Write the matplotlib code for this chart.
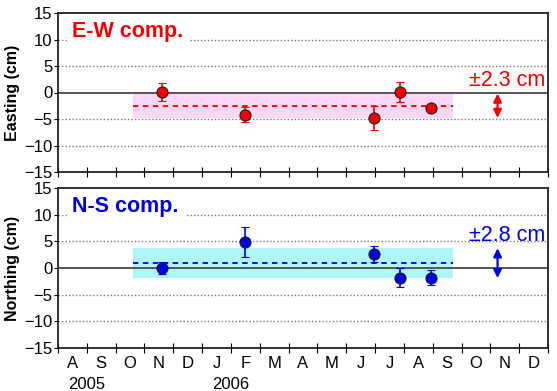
import numpy as np
import matplotlib.pyplot as plt

plt.rcParams['font.family'] = ['Liberation Sans', 'DejaVu Sans']

# month axis: 0 = 1 Aug 2005 ... 17 = 1 Jan 2007
months = ['A', 'S', 'O', 'N', 'D', 'J', 'F', 'M', 'A', 'M', 'J', 'J', 'A', 'S', 'O', 'N', 'D']
years = ['2005', '2006']
year_pos = [1.0, 6.0]

# survey epochs (fractional month index)
t_obs = [3.6, 6.5, 10.95, 11.85, 12.95]

ew = [0.1, -4.2, -4.8, 0.1, -2.9]
ew_err = [1.7, 1.4, 2.2, 1.8, 0.3]
ew_mean = -2.5
ew_sd = 2.3

ns = [0.0, 4.8, 2.6, -1.8, -1.8]
ns_err = [1.1, 2.8, 1.5, 1.8, 1.4]
ns_mean = 0.9
ns_sd = 2.8

band_span = [2.6, 13.7]
arrow_x = 15.25

fig = plt.figure(figsize=(5.57, 3.91), dpi=100)
ax1 = fig.add_axes([58/557, 1 - 172/391, 490/557, 159/391])
ax2 = fig.add_axes([58/557, 1 - 348/391, 490/557, 160/391])

def panel(ax, y, yerr, mean, sd, color, band_color, label, ylabel):
    for g in [-10, -5, 5, 10]:
        ax.axhline(g, color='#777777', lw=1.0, ls=(0, (1, 1.5)), zorder=1)
    ax.axhline(0, color='#555555', lw=1.4, zorder=2)
    ax.fill_between(band_span, mean - sd, mean + sd, color=band_color, lw=0, zorder=0)
    ax.plot(band_span, [mean, mean], color=color, lw=1.3, ls=(0, (3, 2.5)), zorder=3)
    ax.errorbar(t_obs, y, yerr=yerr, fmt='o', color=color, ecolor=color,
                mec='#222222', mew=0.8, ms=8, elinewidth=1.2, capsize=3,
                capthick=1.2, zorder=5)
    ax.annotate('', xy=(arrow_x, mean - sd), xytext=(arrow_x, mean + sd),
                arrowprops=dict(arrowstyle='<|-|>', color=color, lw=1.6,
                                mutation_scale=12, shrinkA=0, shrinkB=0), zorder=6)
    ax.text(16.9, mean + sd + 2.4, '\u00b1' + str(sd) + ' cm', color=color,
            fontsize=15.5, ha='right', va='center', zorder=6)
    ax.text(0.5, 11.5, label, color=color, fontsize=15.5, fontweight='bold',
            ha='left', va='center', zorder=6,
            bbox=dict(facecolor='white', edgecolor='none', pad=4))
    ax.set_xlim(0, 17)
    ax.set_ylim(-15, 15)
    ax.set_yticks(np.arange(-15, 16, 5))
    ax.set_xticks(np.arange(0, 18))
    ax.tick_params(axis='x', direction='inout', length=7, width=0.8, labelbottom=False)
    ax.tick_params(axis='y', direction='out', length=3, width=0.8, labelsize=12, pad=1)
    ax.set_ylabel(ylabel, fontsize=11.5, fontweight='bold', labelpad=3)
    for s in ax.spines.values():
        s.set_linewidth(1.3)
        s.set_color('#222222')

panel(ax1, ew, ew_err, ew_mean, ew_sd, '#ee0000', '#fcd6f6', 'E-W comp.', 'Easting (cm)')
panel(ax2, ns, ns_err, ns_mean, ns_sd, '#0000dd', '#b0f6f8', 'N-S comp.', 'Northing (cm)')

ax2.set_xticks(np.arange(0, 17) + 0.5, minor=True)
ax2.set_xticklabels(months, minor=True)
ax2.tick_params(axis='x', which='minor', length=0, labelsize=12, pad=6)
for yl, xp in zip(years, year_pos):
    ax2.text(xp, -21.8, yl, fontsize=12, ha='center', va='center')

fig.savefig('out.png', dpi=100)
